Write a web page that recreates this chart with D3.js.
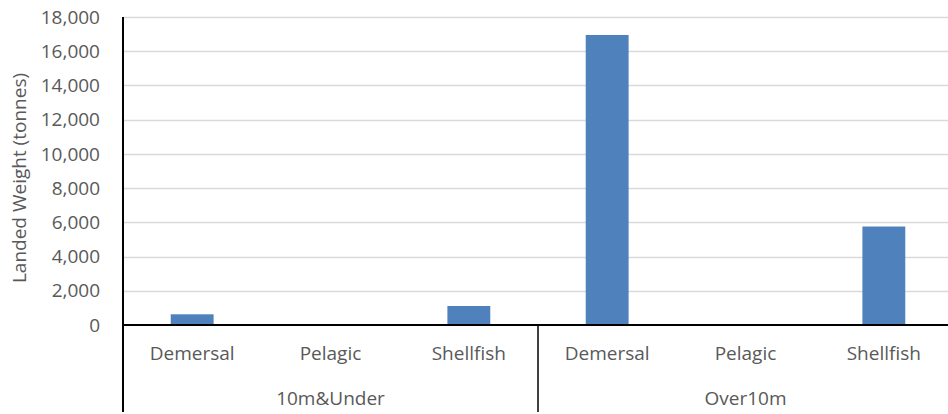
<!DOCTYPE html>
<html>
<head>
<meta charset="utf-8">
<script src="https://cdn.jsdelivr.net/npm/d3@7"></script>
<style>
  html, body { margin: 0; padding: 0; background: #fff; }
  svg { display: block; font-family: "Open Sans", sans-serif; }
</style>
</head>
<body>
<script>
const groups = ["10m&Under", "Over10m"];
const categories = ["Demersal", "Pelagic", "Shellfish"];
const values10mUnder = [625, 0, 1110];
const valuesOver10m = [16950, 0, 5755];
const yTicks = [0, 2000, 4000, 6000, 8000, 10000, 12000, 14000, 16000, 18000];
const yTitle = "Landed Weight (tonnes)";

const rows = [];
groups.forEach((g, gi) => {
  const vals = gi === 0 ? values10mUnder : valuesOver10m;
  categories.forEach((c, ci) => rows.push({ key: g + "|" + c, group: g, cat: c, value: vals[ci] }));
});

const W = 948, H = 414;
const plotLeft = 123, plotRight = 953, plotTop = 17, plotBottom = 325;
const textColor = "#595959";
const fs = 19;

const svg = d3.select("body").append("svg").attr("width", W).attr("height", H);

const y = d3.scaleLinear().domain([0, 18000]).range([plotBottom, plotTop]);
const x = d3.scaleBand().domain(rows.map(d => d.key)).range([plotLeft, plotRight])
  .paddingInner(0.69).paddingOuter(0.345);
const gx = d3.scaleBand().domain(groups).range([plotLeft, plotRight]);

// gridlines
svg.append("g").selectAll("line").data(yTicks.filter(t => t > 0)).join("line")
  .attr("x1", plotLeft).attr("x2", plotRight)
  .attr("y1", d => Math.round(y(d)) + 0.5).attr("y2", d => Math.round(y(d)) + 0.5)
  .attr("stroke", "#d9d9d9").attr("stroke-width", 1.5);

// y tick labels
svg.append("g").selectAll("text").data(yTicks).join("text")
  .attr("x", 100).attr("y", d => y(d))
  .attr("dy", "0.35em").attr("text-anchor", "end")
  .attr("fill", textColor).attr("font-size", fs)
  .text(d => d3.format(",")(d));

// bars
svg.append("g").selectAll("rect").data(rows).join("rect")
  .attr("x", d => x(d.key)).attr("width", x.bandwidth())
  .attr("y", d => y(d.value)).attr("height", d => y(0) - y(d.value))
  .attr("fill", "#4f81bd");

// axes lines
svg.append("line").attr("x1", plotLeft).attr("x2", plotLeft).attr("y1", plotTop).attr("y2", 412)
  .attr("stroke", "#000").attr("stroke-width", 2);
svg.append("line").attr("x1", plotLeft - 1).attr("x2", plotRight).attr("y1", plotBottom).attr("y2", plotBottom)
  .attr("stroke", "#000").attr("stroke-width", 2);
// group dividers
svg.append("g").selectAll("line").data(groups).join("line")
  .attr("x1", d => gx(d) + gx.bandwidth()).attr("x2", d => gx(d) + gx.bandwidth())
  .attr("y1", plotBottom).attr("y2", 412)
  .attr("stroke", "#000").attr("stroke-width", 1.5);

// category labels
svg.append("g").selectAll("text").data(rows).join("text")
  .attr("x", d => x(d.key) + x.bandwidth() / 2).attr("y", 353)
  .attr("dy", "0.35em").attr("text-anchor", "middle")
  .attr("fill", textColor).attr("font-size", fs)
  .text(d => d.cat);

// group labels
svg.append("g").selectAll("text").data(groups).join("text")
  .attr("x", d => gx(d) + gx.bandwidth() / 2).attr("y", 398)
  .attr("dy", "0.35em").attr("text-anchor", "middle")
  .attr("fill", textColor).attr("font-size", fs)
  .text(d => d);

// y title
svg.append("text")
  .attr("transform", "translate(19,178) rotate(-90)")
  .attr("dy", "0.35em").attr("text-anchor", "middle")
  .attr("fill", textColor).attr("font-size", 19)
  .text(yTitle);
</script>
</body>
</html>
